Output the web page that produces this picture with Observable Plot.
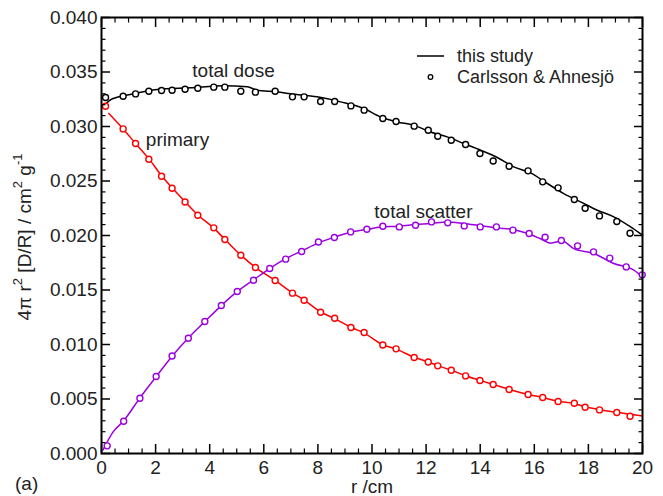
<!DOCTYPE html>
<html><head><meta charset="utf-8">
<script src="https://cdn.jsdelivr.net/npm/d3@7"></script>
<script src="https://cdn.jsdelivr.net/npm/@observablehq/plot@0.6"></script>
<style>
body{margin:0;background:#fff;}
#chart{position:relative;width:663px;height:496px;}
svg{font-family:"Liberation Sans",Arial,Helvetica,sans-serif;}
</style></head>
<body><div id="chart"></div>
<script>
// ---- Carlsson & Ahnesjö (circles) ----
const caR = [0.15,0.80,1.26,1.75,2.22,2.61,3.09,3.56,4.15,4.56,5.15,5.69,6.42,7.06,7.49,8.10,8.62,9.22,9.71,10.40,10.89,11.56,12.08,12.43,12.93,13.46,13.99,14.48,15.07,15.77,16.31,16.88,17.48,17.88,18.41,19.05,19.54];
const caPrimary = [0.03186,0.02978,0.02844,0.02700,0.02544,0.02434,0.02308,0.02186,0.02070,0.01963,0.01819,0.01706,0.01587,0.01471,0.01406,0.01296,0.01241,0.01156,0.01110,0.00996,0.00960,0.00881,0.00840,0.00804,0.00764,0.00712,0.00670,0.00633,0.00587,0.00541,0.00514,0.00477,0.00461,0.00425,0.00400,0.00376,0.00342];
const caTotal = [0.03266,0.03278,0.03299,0.03324,0.03330,0.03333,0.03342,0.03351,0.03361,0.03361,0.03324,0.03315,0.03324,0.03272,0.03272,0.03229,0.03229,0.03189,0.03150,0.03073,0.03046,0.03003,0.02966,0.02911,0.02874,0.02835,0.02752,0.02684,0.02636,0.02593,0.02492,0.02437,0.02330,0.02250,0.02180,0.02128,0.02021];
const caScatterR = [0.21,0.82,1.42,2.02,2.61,3.21,3.82,4.43,5.02,5.62,6.22,6.81,7.40,8.02,8.61,9.21,9.81,10.40,11.01,11.61,12.20,12.80,13.41,14.00,14.60,15.21,15.81,16.40,17.00,17.60,18.19,18.79,19.40,19.99];
const caScatter = [0.00070,0.00296,0.00507,0.00706,0.00895,0.01058,0.01211,0.01358,0.01486,0.01590,0.01697,0.01783,0.01853,0.01941,0.01982,0.02033,0.02058,0.02085,0.02079,0.02094,0.02125,0.02116,0.02088,0.02079,0.02079,0.02049,0.02018,0.01984,0.01954,0.01905,0.01850,0.01792,0.01712,0.01639];

// ---- this study (lines) ----
const lineTotalR = [0.10,0.30,0.60,0.80,2.06,3.29,4.52,5.39,5.75,6.49,6.99,7.97,8.84,9.70,10.31,10.93,11.55,12.16,12.78,13.39,14.01,14.63,15.24,15.86,16.48,17.09,17.71,18.33,18.94,19.56,20.00];
const lineTotal = [0.03190,0.03240,0.03270,0.03280,0.03340,0.03355,0.03373,0.03364,0.03333,0.03318,0.03300,0.03272,0.03226,0.03165,0.03088,0.03042,0.03012,0.02950,0.02905,0.02844,0.02783,0.02716,0.02630,0.02574,0.02477,0.02385,0.02308,0.02232,0.02171,0.02079,0.02003];
const linePrimaryR = [0.27,0.80,1.26,1.75,2.22,2.61,3.09,3.56,4.15,4.56,5.15,5.69,6.42,7.06,7.49,8.10,8.62,9.22,9.71,10.40,10.89,11.56,12.08,12.43,12.93,13.46,13.99,14.48,15.07,15.77,16.31,16.88,17.48,17.88,18.41,19.05,19.54,20.00];
const linePrimary = [0.03120,0.02978,0.02844,0.02705,0.02548,0.02438,0.02310,0.02188,0.02068,0.01965,0.01820,0.01708,0.01588,0.01473,0.01408,0.01298,0.01238,0.01158,0.01105,0.00998,0.00958,0.00883,0.00840,0.00806,0.00764,0.00714,0.00671,0.00634,0.00589,0.00541,0.00514,0.00479,0.00458,0.00428,0.00401,0.00378,0.00360,0.00345];
const lineScatterR = [0.05,0.43,0.82,1.00,1.42,2.02,2.61,3.21,3.82,4.43,5.02,5.62,6.22,6.81,7.40,8.02,8.61,9.21,9.81,10.40,11.01,11.61,12.17,12.78,13.39,14.00,14.63,15.20,15.74,16.23,16.60,17.03,17.46,18.20,18.94,19.68,20.00];
const lineScatter = [0.00030,0.00198,0.00300,0.00360,0.00510,0.00705,0.00893,0.01060,0.01210,0.01357,0.01487,0.01593,0.01697,0.01787,0.01858,0.01932,0.01985,0.02030,0.02055,0.02080,0.02085,0.02100,0.02110,0.02125,0.02110,0.02090,0.02070,0.02055,0.02020,0.01970,0.01930,0.01950,0.01880,0.01835,0.01743,0.01682,0.01620];

// ---- axis ticks ----
const xMajor = [0,2,4,6,8,10,12,14,16,18,20];
const xMinor = d3.range(0, 20.001, 0.5).filter(v => Math.abs(v/2 - Math.round(v/2)) > 1e-6);
const yMajor = [0,0.005,0.010,0.015,0.020,0.025,0.030,0.035,0.040];
const yMinor = d3.range(0, 0.04001, 0.001).filter(v => Math.abs(v/0.005 - Math.round(v/0.005)) > 1e-6);

const labels = [
  {r: 4.88, v: 0.0351, text: "total dose"},
  {r: 2.81, v: 0.02875, text: "primary"},
  {r: 11.9, v: 0.0222, text: "total scatter"}
];

const zip = (xs, ys) => xs.map((r, i) => ({r, v: ys[i]}));
const RED = "#ff0000", PURPLE = "#9a00e0", BLACK = "#000";
const TXT = "#222";
const FS = 19;

const chart = Plot.plot({
  width: 663, height: 496,
  marginLeft: 101, marginRight: 21, marginTop: 17, marginBottom: 43,
  x: {domain: [0, 20]},
  y: {domain: [0, 0.04]},
  style: {fontFamily: '"Liberation Sans", Arial, sans-serif', background: "#fff"},
  marks: [
    Plot.line(zip(lineTotalR, lineTotal), {x: "r", y: "v", stroke: BLACK, strokeWidth: 1.5, curve: "monotone-x"}),
    Plot.line(zip(linePrimaryR, linePrimary), {x: "r", y: "v", stroke: RED, strokeWidth: 1.5, curve: "monotone-x"}),
    Plot.line(zip(lineScatterR, lineScatter), {x: "r", y: "v", stroke: PURPLE, strokeWidth: 1.5, curve: "monotone-x"}),
    Plot.dot(zip(caR, caTotal), {x: "r", y: "v", r: 3, stroke: BLACK, fill: "white", strokeWidth: 1.4}),
    Plot.dot(zip(caR, caPrimary), {x: "r", y: "v", r: 3, stroke: RED, fill: "white", strokeWidth: 1.4}),
    Plot.dot(zip(caScatterR, caScatter), {x: "r", y: "v", r: 3, stroke: PURPLE, fill: "white", strokeWidth: 1.4}),
    Plot.text(labels, {x: "r", y: "v", text: "text", fontSize: FS, fill: TXT}),
    // ticks (inward) on all sides
    Plot.axisX(xMajor, {anchor: "bottom", tickSize: -9, strokeWidth: 1.5, text: null, label: null}),
    Plot.axisX(xMinor, {anchor: "bottom", tickSize: -4.5, strokeWidth: 1.2, text: null, label: null}),
    Plot.axisX(xMajor, {anchor: "top", tickSize: -9, strokeWidth: 1.5, text: null, label: null}),
    Plot.axisX(xMinor, {anchor: "top", tickSize: -4.5, strokeWidth: 1.2, text: null, label: null}),
    Plot.axisY(yMajor, {anchor: "left", tickSize: -9, strokeWidth: 1.5, text: null, label: null}),
    Plot.axisY(yMinor, {anchor: "left", tickSize: -4.5, strokeWidth: 1.2, text: null, label: null}),
    Plot.axisY(yMajor, {anchor: "right", tickSize: -9, strokeWidth: 1.5, text: null, label: null}),
    Plot.axisY(yMinor, {anchor: "right", tickSize: -4.5, strokeWidth: 1.2, text: null, label: null}),
    // tick labels
    Plot.axisX(xMajor, {anchor: "bottom", tickSize: 0, tickPadding: 7, fontSize: FS, fill: TXT, tickFormat: d => String(d), label: null}),
    Plot.axisY(yMajor, {anchor: "left", tickSize: 0, tickPadding: 4, fontSize: FS, fill: TXT, tickFormat: d3.format(".3f"), label: null}),
    Plot.frame({stroke: "black", strokeWidth: 2})
  ]
});

document.getElementById("chart").appendChild(chart);
const svg = d3.select(chart);

// x axis title
svg.append("text").attr("x", 372).attr("y", 493).attr("text-anchor", "middle")
  .attr("font-size", FS).attr("fill", TXT).text("r /cm");

// y axis title with superscripts
const yt = svg.append("text")
  .attr("transform", "translate(31,237) rotate(-90)")
  .attr("text-anchor", "middle")
  .attr("font-size", FS)
  .attr("fill", TXT);
yt.append("tspan").text("4\u03c0 r");
yt.append("tspan").attr("font-size", 13).attr("dy", -9).text("2");
yt.append("tspan").attr("dy", 9).text(" [D/R] / cm");
yt.append("tspan").attr("font-size", 13).attr("dy", -9).text("2");
yt.append("tspan").attr("dy", 9).text(" g");
yt.append("tspan").attr("font-size", 13).attr("dy", -9).text("-1");

// (a) panel tag
svg.append("text").attr("x", 15).attr("y", 490).attr("text-anchor", "start")
  .attr("font-size", FS).attr("fill", TXT).text("(a)");

// legend
const lg = svg.append("g").attr("font-size", FS - 1).attr("fill", TXT).attr("text-anchor", "start");
lg.append("line").attr("x1", 417).attr("x2", 444).attr("y1", 56).attr("y2", 56).attr("stroke", "black").attr("stroke-width", 1.5);
lg.append("text").attr("x", 457).attr("y", 62).text("this study");
lg.append("circle").attr("cx", 430.5).attr("cy", 77).attr("r", 2.3).attr("fill", "white").attr("stroke", "black").attr("stroke-width", 1.3);
lg.append("text").attr("x", 457).attr("y", 83).text("Carlsson & Ahnesjö");
</script>
</body></html>
